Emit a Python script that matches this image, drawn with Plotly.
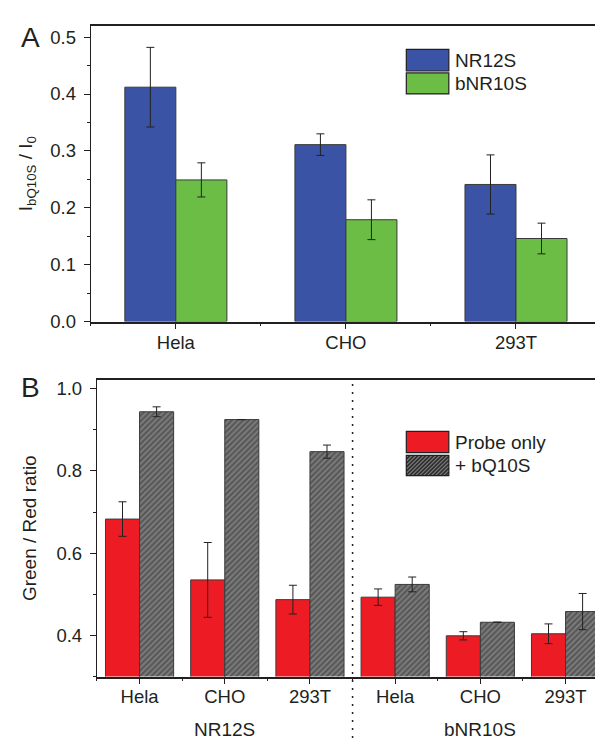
import plotly.graph_objects as go

# ---------------- data ----------------
cells_a = ["Hela", "CHO", "293T"]
nr12s_a = [0.412, 0.311, 0.241]
nr12s_a_err = [0.070, 0.019, 0.052]
bnr10s_a = [0.249, 0.179, 0.146]
bnr10s_a_err = [0.030, 0.035, 0.027]

cells_b = ["Hela", "CHO", "293T", "Hela", "CHO", "293T"]
groups_b = ["NR12S", "bNR10S"]
probe_only = [0.683, 0.535, 0.487, 0.493, 0.399, 0.404]
probe_only_err = [0.042, 0.091, 0.035, 0.020, 0.010, 0.024]
plus_bq10s = [0.944, 0.925, 0.847, 0.524, 0.432, 0.458]
plus_bq10s_err = [0.012, 0.0, 0.016, 0.018, 0.0, 0.044]

W, H = 603, 740
FONT = "Liberation Sans, Arial, sans-serif"
TXT = "#231f20"

BLUE = "#3a53a4"
GREEN = "#6bbd45"
RED = "#ed1c24"
HATCH_BG = "#7c7c7c"
HATCH_FG = "#2e2e2e"
OUTLINE = "#3a3a3a"

def px_x(x):
    return x / W

def px_y(y):
    return 1 - y / H

xa = list(range(len(cells_a)))
xb = list(range(len(cells_b)))

fig = go.Figure()

eb = dict(type="data", visible=True, color="#222222", thickness=1, width=4)

fig.add_trace(go.Bar(x=xa, y=nr12s_a, name="NR12S", width=0.3, offset=-0.3,
                     marker=dict(color=BLUE, line=dict(color=OUTLINE, width=1)),
                     error_y=dict(array=nr12s_a_err, **eb), xaxis="x", yaxis="y"))
fig.add_trace(go.Bar(x=xa, y=bnr10s_a, name="bNR10S", width=0.3, offset=0,
                     marker=dict(color=GREEN, line=dict(color=OUTLINE, width=1)),
                     error_y=dict(array=bnr10s_a_err, **eb), xaxis="x", yaxis="y"))

fig.add_trace(go.Bar(x=xb, y=probe_only, name="Probe only", width=0.4, offset=-0.4,
                     marker=dict(color=RED, line=dict(color=OUTLINE, width=1)),
                     error_y=dict(array=probe_only_err, **eb), xaxis="x2", yaxis="y2"))
fig.add_trace(go.Bar(x=xb, y=plus_bq10s, name="+ bQ10S", width=0.4, offset=0,
                     marker=dict(color=HATCH_BG, line=dict(color=OUTLINE, width=1),
                                 pattern=dict(shape="/", bgcolor=HATCH_BG, fgcolor=HATCH_FG,
                                              size=4, solidity=0.5)),
                     error_y=dict(array=plus_bq10s_err, **eb), xaxis="x2", yaxis="y2"))

TICK_SIZE = 18.5
TITLE_SIZE = 19
tickfont = dict(family=FONT, size=TICK_SIZE, color=TXT)

common_x = dict(showgrid=False, zeroline=False, showline=True, linecolor="#231f20",
                linewidth=1.5, mirror=True, ticks="outside", ticklen=6, tickwidth=1,
                tickcolor="#231f20", tickfont=tickfont, ticklabelstandoff=-3,
                minor=dict(ticks="outside", ticklen=3, tickwidth=1, tickcolor="#231f20",
                           tick0=0.5, dtick=1))
common_y = dict(showgrid=False, zeroline=False, showline=True, linecolor="#231f20",
                linewidth=1.2, mirror="ticks", ticks="outside", ticklen=6, tickwidth=1,
                tickcolor="#231f20", tickfont=tickfont, tickformat=".1f",
                ticklabelstandoff=4)

fig.update_layout(
    width=W, height=H,
    margin=dict(l=0, r=0, t=0, b=0),
    paper_bgcolor="white", plot_bgcolor="white",
    showlegend=False, barmode="overlay",
    font=dict(family=FONT, color=TXT),
    xaxis=dict(domain=[px_x(83.8), px_x(600)], range=[-0.5, 2.5], anchor="y",
               tickvals=xa, ticktext=cells_a, **common_x),
    yaxis=dict(domain=[px_y(316.7), px_y(16)], range=[0, 0.52], anchor="x",
               tickvals=[0, 0.1, 0.2, 0.3, 0.4, 0.5],
               minor=dict(ticks="outside", ticklen=3, tickwidth=1, tickcolor="#231f20",
                          tick0=0, dtick=0.05),
               title=dict(text="I<sub>bQ10S</sub> / I<sub>0</sub>",
                          font=dict(family=FONT, size=TITLE_SIZE, color=TXT), standoff=12),
               **common_y),
    xaxis2=dict(domain=[px_x(90), 1.0], range=[-0.5, -0.5 + (W - 90) / 86.2], anchor="y2",
                tickvals=xb, ticktext=cells_b, **common_x),
    yaxis2=dict(domain=[px_y(677.5), px_y(376)], range=[0.3, 1.0215], anchor="x2",
                tickvals=[0.4, 0.6, 0.8, 1.0],
                minor=dict(ticks="outside", ticklen=3, tickwidth=1, tickcolor="#231f20",
                           tick0=0.3, dtick=0.1),
                title=dict(text="Green / Red ratio",
                           font=dict(family=FONT, size=TITLE_SIZE, color=TXT), standoff=14),
                **common_y),
)

shapes = []
annotations = []

# dotted separator in panel B
shapes.append(dict(type="line", xref="x2", yref="paper", x0=2.5, x1=2.5,
                   y0=0, y1=px_y(376),
                   line=dict(color="#231f20", width=1.5, dash="2px,6px")))

# group labels in B
for gi, g in enumerate(groups_b):
    annotations.append(dict(text=g, xref="x2", yref="paper", x=1 + 3 * gi, y=px_y(731),
                            showarrow=False, xanchor="center", yanchor="middle",
                            font=dict(family=FONT, size=TITLE_SIZE, color=TXT)))

# panel letters
annotations.append(dict(text="A", xref="paper", yref="paper", x=px_x(23), y=px_y(28),
                        showarrow=False, xanchor="center", yanchor="middle",
                        font=dict(family=FONT, size=28, color=TXT)))
annotations.append(dict(text="B", xref="paper", yref="paper", x=px_x(23), y=px_y(384),
                        showarrow=False, xanchor="center", yanchor="middle",
                        font=dict(family=FONT, size=28, color=TXT)))

# legend keys drawn as boxes
def legend_box(x0, y0, x1, y1, color, label, hatched=False):
    shapes.append(dict(type="rect", xref="paper", yref="paper",
                       x0=px_x(x0), x1=px_x(x1), y0=px_y(y1), y1=px_y(y0),
                       fillcolor=color, line=dict(width=0)))
    if hatched:
        w, h = x1 - x0, y1 - y0
        step = 4.0
        c = -h
        parts = []
        while c < w:
            ua, ub = max(0, c), min(w, h + c)
            if ub > ua:
                xa_, ya_ = x0 + ua, y1 - (ua - c)
                xb_, yb_ = x0 + ub, y1 - (ub - c)
                parts.append(f"M{px_x(xa_):.5f},{px_y(ya_):.5f}L{px_x(xb_):.5f},{px_y(yb_):.5f}")
            c += step
        shapes.append(dict(type="path", xref="paper", yref="paper", path="".join(parts),
                           line=dict(color=HATCH_FG, width=1.6)))
    shapes.append(dict(type="rect", xref="paper", yref="paper",
                       x0=px_x(x0), x1=px_x(x1), y0=px_y(y1), y1=px_y(y0),
                       fillcolor="rgba(0,0,0,0)", line=dict(color="#231f20", width=1.2)))
    annotations.append(dict(text=label, xref="paper", yref="paper", x=px_x(x1 + 4),
                            y=px_y((y0 + y1) / 2), showarrow=False, xanchor="left",
                            yanchor="middle", font=dict(family=FONT, size=TITLE_SIZE, color=TXT)))

legend_box(403, 40, 446, 62, BLUE, "NR12S")
legend_box(403, 64, 446, 85.3, GREEN, "bNR10S")
legend_box(403, 428.3, 446, 450, RED, "Probe only")
legend_box(403, 452.7, 446, 473.3, HATCH_BG, "+ bQ10S", hatched=True)

fig.update_layout(shapes=shapes, annotations=annotations)

fig.write_html("out.html")
